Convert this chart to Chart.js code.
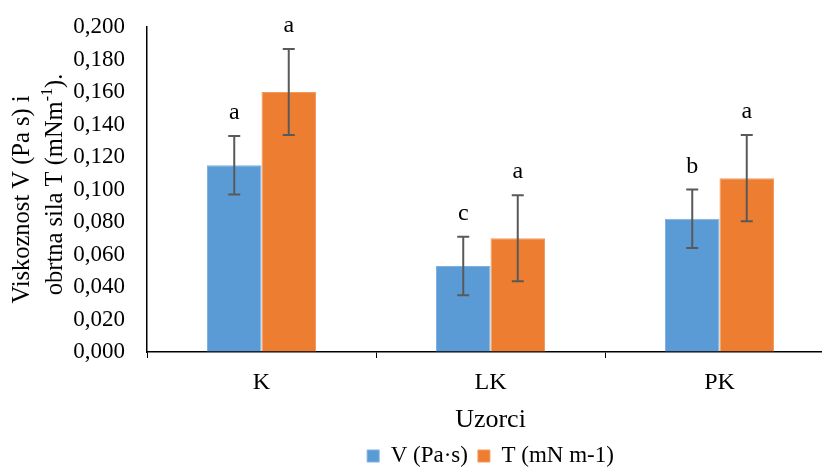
<!DOCTYPE html>
<html>
<head>
<meta charset="utf-8">
<script src="https://cdn.jsdelivr.net/npm/chart.js@4"></script>
<style>
  html, body { margin: 0; padding: 0; background: #fff; overflow: hidden; }
  #wrap { width: 834px; height: 468px; }
</style>
</head>
<body>
<div id="wrap"><canvas id="chart"></canvas></div>
<script>
const categories = ["K", "LK", "PK"];
const vValues = [0.115, 0.053, 0.082];
const tValues = [0.160, 0.070, 0.107];
const vErrors = [0.018, 0.018, 0.018];
const tErrors = [0.0265, 0.0265, 0.0265];
const vLetters = ["a", "c", "b"];
const tLetters = ["a", "a", "a"];
const seriesNames = ["V (Pa\u00b7s)", "T (mN m-1)"];
const yTitleLines = ["Viskoznost V (Pa s) i", "obrtna sila T (mNm", "-1", ")."];

const FONT = "'Liberation Serif', 'Times New Roman', serif";

// error bars + significance letters
const errorBars = {
  id: "errorBars",
  afterDatasetsDraw(chart) {
    const { ctx, scales: { y } } = chart;
    const errs = [vErrors, tErrors];
    const letters = [vLetters, tLetters];
    ctx.save();
    chart.data.datasets.forEach((ds, i) => {
      const meta = chart.getDatasetMeta(i);
      meta.data.forEach((bar, j) => {
        const v = ds.data[j];
        const top = y.getPixelForValue(v + errs[i][j]);
        const bot = y.getPixelForValue(v - errs[i][j]);
        ctx.strokeStyle = "#595959";
        ctx.lineWidth = 2;
        ctx.beginPath();
        ctx.moveTo(bar.x, top);
        ctx.lineTo(bar.x, bot);
        ctx.moveTo(bar.x - 6, top);
        ctx.lineTo(bar.x + 6, top);
        ctx.moveTo(bar.x - 6, bot);
        ctx.lineTo(bar.x + 6, bot);
        ctx.stroke();

        ctx.fillStyle = "#000";
        ctx.font = "24px " + FONT;
        ctx.textAlign = "center";
        ctx.textBaseline = "middle";
        ctx.fillText(letters[i][j], bar.x, top - 23);
      });
    });
    ctx.restore();
  }
};

// rotated two-line y title with superscript
const yTitle = {
  id: "yTitle",
  afterDraw(chart) {
    const { ctx, chartArea } = chart;
    const mid = (chartArea.top + chartArea.bottom) / 2;
    ctx.save();
    ctx.fillStyle = "#000";
    ctx.textBaseline = "middle";
    ctx.textAlign = "left";
    ctx.translate(23, mid + 10);
    ctx.rotate(-Math.PI / 2);
    ctx.font = "24.5px " + FONT;
    const w = ctx.measureText(yTitleLines[0]).width;
    ctx.fillText(yTitleLines[0], -w / 2, 0);
    ctx.restore();

    ctx.save();
    ctx.fillStyle = "#000";
    ctx.textBaseline = "middle";
    ctx.textAlign = "left";
    ctx.translate(56, mid - 5);
    ctx.rotate(-Math.PI / 2);
    ctx.font = "24.5px " + FONT;
    const w1 = ctx.measureText(yTitleLines[1]).width;
    const w3 = ctx.measureText(yTitleLines[3]).width;
    ctx.font = "16px " + FONT;
    const w2 = ctx.measureText(yTitleLines[2]).width;
    let x = -(w1 + w2 + w3) / 2;
    ctx.font = "24.5px " + FONT;
    ctx.fillText(yTitleLines[1], x, 0);
    x += w1;
    ctx.font = "16px " + FONT;
    ctx.fillText(yTitleLines[2], x, -8);
    x += w2;
    ctx.font = "24.5px " + FONT;
    ctx.fillText(yTitleLines[3], x, 0);
    ctx.restore();
  }
};

new Chart(document.getElementById("chart"), {
  type: "bar",
  data: {
    labels: categories,
    datasets: [
      {
        label: seriesNames[0],
        data: vValues,
        backgroundColor: "#5B9BD5",
        borderColor: "#7FB1E0",
        borderWidth: 1,
      },
      {
        label: seriesNames[1],
        data: tValues,
        backgroundColor: "#ED7D31",
        borderColor: "#F29A5E",
        borderWidth: 1,
      },
    ],
  },
  options: {
    responsive: true,
    maintainAspectRatio: false,
    animation: false,
    layout: { padding: { top: 27, right: 0, left: 0, bottom: 0 } },
    datasets: { bar: { categoryPercentage: 0.476, barPercentage: 1 } },
    plugins: {
      legend: {
        position: "bottom",
        fullSize: false,
        maxHeight: 33.5,
        labels: {
          color: "#000",
          font: { family: FONT, size: 23 },
          boxWidth: 12,
          boxHeight: 12,
          padding: 10,
        },
      },
      tooltip: { enabled: false },
    },
    scales: {
      x: {
        grid: {
          offset: true,
          drawOnChartArea: false,
          color: "#000",
          tickLength: 6,
        },
        border: { color: "#000", width: 1.5 },
        ticks: {
          color: "#000",
          font: { family: FONT, size: 24 },
          padding: 10,
        },
        title: {
          display: true,
          text: "Uzorci",
          color: "#000",
          font: { family: FONT, size: 26 },
          padding: { top: 0, bottom: -1.5 },
        },
        afterFit(scale) {
          scale.height = 82.5;
        },
      },
      y: {
        min: 0,
        max: 0.2,
        // invisible ticks give the label gap (tick padding would also push the top down)
        grid: { drawOnChartArea: false, color: "rgba(0,0,0,0)", tickLength: 22 },
        border: { color: "#000", width: 1.5 },
        ticks: {
          stepSize: 0.02,
          color: "#000",
          padding: 0,
          font: { family: FONT, size: 23 },
          callback: (v) => v.toFixed(3).replace(".", ","),
        },
        afterFit(scale) {
          scale.width = 147;
        },
      },
    },
  },
  plugins: [errorBars, yTitle],
});
</script>
</body>
</html>
